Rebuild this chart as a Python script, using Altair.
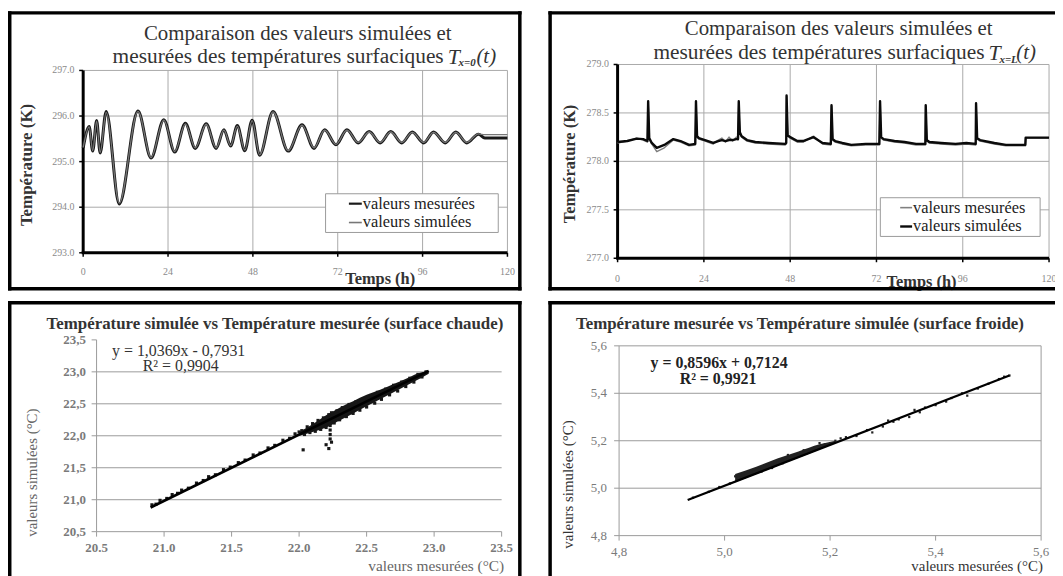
import altair as alt
import pandas as pd

# ---------------- data ----------------
time_ticks = [0, 24, 48, 72, 96, 120]

# top-left : T(x=0) [K]
tl_t = [0.0, 1.7, 2.7, 3.8, 4.8, 6.5, 10.2, 15.5, 19.2, 22.8, 25.9, 28.9, 31.7, 34.8,
        37.6, 39.8, 41.7, 43.6, 45.7, 47.8, 49.9, 53.7, 58.0, 61.9, 65.3, 68.3, 71.5,
        74.6, 77.8, 80.9, 84.0, 87.0, 90.1, 93.1, 96.3, 99.1, 102.4, 105.4, 108.5,
        111.8, 113.6, 120.0]
tl_mes = [295.30, 295.77, 295.23, 295.90, 295.19, 296.10, 294.07, 296.11, 295.08, 295.92,
          295.21, 295.84, 295.29, 295.83, 295.29, 295.70, 295.34, 295.79, 295.24, 295.91,
          295.14, 296.10, 295.23, 295.81, 295.29, 295.70, 295.37, 295.70, 295.41, 295.66,
          295.41, 295.66, 295.41, 295.65, 295.41, 295.65, 295.41, 295.65, 295.41, 295.60,
          295.52, 295.52]
tl_sim = [295.31, 295.76, 295.24, 295.89, 295.20, 296.08, 294.09, 296.10, 295.09, 295.91,
          295.22, 295.83, 295.30, 295.82, 295.30, 295.69, 295.35, 295.78, 295.25, 295.90,
          295.15, 296.09, 295.24, 295.80, 295.30, 295.69, 295.38, 295.69, 295.42, 295.65,
          295.42, 295.65, 295.42, 295.64, 295.42, 295.64, 295.42, 295.64, 295.42, 295.61,
          295.59, 295.59]
tl_yticks = [293.0, 294.0, 295.0, 296.0, 297.0]

# top-right : T(x=L) [K]
tr_t = [0, 2.7, 5.3, 7.1, 8.3, 8.5, 8.8, 9.5, 10.9, 13, 15.5, 17.5, 19.9, 21.6, 21.8, 22.1,
        22.6, 24.3, 26.6, 28, 29, 30, 31, 32, 33, 33.5, 33.7, 34.0, 34.5, 36, 38.3, 42,
        46.6, 46.9, 47.0, 47.3, 48, 50, 51.6, 54.5, 57, 59.3, 59.5, 59.8, 60.5, 62.5, 65,
        69, 72.8, 73.0, 73.3, 74, 77, 79.8, 83, 85.6, 85.7, 86.0, 86.7, 90, 94, 97, 99.6,
        99.7, 100.0, 100.8, 104.8, 108, 111.6, 113.4, 113.5, 120]
tr_sim = [278.20, 278.21, 278.235, 278.23, 278.21, 278.62, 278.24, 278.19, 278.14, 278.17,
          278.23, 278.21, 278.17, 278.18, 278.62, 278.26, 278.24, 278.22, 278.19, 278.21,
          278.22, 278.21, 278.22, 278.22, 278.23, 278.23, 278.62, 278.30, 278.26, 278.22,
          278.20, 278.19, 278.18, 278.19, 278.68, 278.27, 278.25, 278.21, 278.21, 278.25,
          278.19, 278.18, 278.58, 278.23, 278.21, 278.19, 278.17, 278.18, 278.18, 278.62,
          278.25, 278.23, 278.21, 278.20, 278.18, 278.18, 278.58, 278.22, 278.20, 278.19,
          278.18, 278.19, 278.18, 278.60, 278.24, 278.22, 278.19, 278.17, 278.17, 278.17,
          278.245, 278.245]
tr_mes = [278.19, 278.21, 278.24, 278.22, 278.20, 278.61, 278.23, 278.18, 278.10, 278.14,
          278.22, 278.20, 278.16, 278.17, 278.61, 278.25, 278.23, 278.21, 278.18, 278.22,
          278.24, 278.20, 278.25, 278.21, 278.25, 278.22, 278.61, 278.28, 278.25, 278.21,
          278.19, 278.18, 278.17, 278.18, 278.67, 278.26, 278.24, 278.20, 278.20, 278.26,
          278.18, 278.17, 278.57, 278.22, 278.20, 278.18, 278.16, 278.17, 278.17, 278.61,
          278.24, 278.22, 278.20, 278.19, 278.17, 278.17, 278.57, 278.21, 278.19, 278.18,
          278.17, 278.18, 278.17, 278.59, 278.23, 278.21, 278.18, 278.16, 278.16, 278.16,
          278.24, 278.24]
tr_yticks = [277.0, 277.5, 278.0, 278.5, 279.0]

# bottom-left : hot surface scatter (°C)
bl_points = [(20.91, 20.92), (20.94, 20.93), (20.97, 20.99), (21.02, 21.02), (21.06, 21.08),
             (21.10, 21.10), (21.13, 21.15), (21.18, 21.18), (21.24, 21.26), (21.29, 21.30),
             (21.33, 21.36), (21.38, 21.39), (21.44, 21.47), (21.49, 21.51), (21.55, 21.58),
             (21.60, 21.62), (21.66, 21.70), (21.71, 21.73), (21.77, 21.81), (21.82, 21.85),
             (21.88, 21.93), (21.93, 21.96), (21.97, 22.03), (22.00, 22.06), (22.02, 22.08),
             (22.04, 22.02), (22.06, 22.14), (22.08, 22.05), (22.10, 22.19), (22.12, 22.07),
             (22.14, 22.24), (22.16, 22.10), (22.18, 22.28), (22.20, 22.13), (22.22, 22.33),
             (22.23, 22.16), (22.24, 22.36), (22.26, 22.20), (22.28, 22.39), (22.30, 22.25),
             (22.32, 22.44), (22.35, 22.30), (22.37, 22.49), (22.40, 22.35), (22.42, 22.53),
             (22.45, 22.40), (22.48, 22.58), (22.50, 22.45), (22.53, 22.63), (22.56, 22.51),
             (22.58, 22.68), (22.61, 22.57), (22.64, 22.73), (22.67, 22.64), (22.70, 22.79),
             (22.73, 22.70), (22.76, 22.84), (22.79, 22.77), (22.82, 22.90), (22.85, 22.84),
             (22.88, 22.96), (22.91, 22.92), (22.94, 23.00),
             (22.03, 21.78), (22.20, 21.86), (22.22, 21.80), (22.23, 21.95), (22.23, 22.02),
             (22.23, 22.09), (22.24, 21.90)]
bl_band_x = [22.0, 22.1, 22.2, 22.3, 22.4, 22.5, 22.6, 22.7, 22.8, 22.9, 22.96]
bl_band_lo = [22.00, 22.06, 22.13, 22.24, 22.35, 22.46, 22.57, 22.68, 22.79, 22.90, 22.97]
bl_band_hi = [22.06, 22.18, 22.32, 22.44, 22.54, 22.64, 22.72, 22.81, 22.90, 22.99, 23.01]
bl_ticks = [20.5, 21.0, 21.5, 22.0, 22.5, 23.0, 23.5]
bl_grid = [21.0, 21.5, 22.0, 22.5, 23.0]
bl_fit = (1.0369, -0.7931)
bl_fit_x = [20.90, 22.96]

# bottom-right : cold surface scatter (°C)
br_points = [(4.94, 4.96), (4.97, 4.985), (4.99, 5.005), (5.01, 5.02), (5.02, 5.05), (5.03, 5.04),
             (5.03, 5.055), (5.04, 5.05), (5.05, 5.06), (5.05, 5.07), (5.06, 5.065), (5.07, 5.08),
             (5.07, 5.07), (5.08, 5.09), (5.09, 5.085), (5.09, 5.10), (5.10, 5.11), (5.11, 5.105),
             (5.11, 5.12), (5.12, 5.13), (5.12, 5.14), (5.13, 5.125), (5.14, 5.145), (5.15, 5.15),
             (5.15, 5.16), (5.16, 5.155), (5.17, 5.17), (5.18, 5.175), (5.18, 5.19), (5.19, 5.185),
             (5.20, 5.19), (5.21, 5.20), (5.22, 5.21), (5.23, 5.215), (5.25, 5.22), (5.27, 5.245),
             (5.28, 5.235), (5.30, 5.26), (5.31, 5.285), (5.32, 5.28), (5.33, 5.29), (5.35, 5.30),
             (5.36, 5.33), (5.37, 5.32), (5.38, 5.34), (5.40, 5.35), (5.42, 5.365), (5.43, 5.38),
             (5.45, 5.40), (5.46, 5.39), (5.48, 5.42), (5.50, 5.44), (5.52, 5.46), (5.53, 5.47),
             (5.54, 5.475)]
br_band_x = [5.02, 5.06, 5.10, 5.14, 5.18, 5.21]
br_band_lo = [5.025, 5.060, 5.094, 5.128, 5.163, 5.189]
br_band_hi = [5.060, 5.090, 5.125, 5.155, 5.185, 5.200]
br_ticks = [4.8, 5.0, 5.2, 5.4, 5.6]
br_grid = [5.0, 5.2, 5.4]
br_fit = (0.8596, 0.7124)
br_fit_x = [4.93, 5.54]

# ---------------- helpers ----------------
FONT = "Liberation Serif"
one = pd.DataFrame({"k": [0]})
W, H = 1055, 568          # whole drawing (page minus 8px margin)


def label(text, x, y, size, color="#333333", weight="normal", style="normal",
          align="center", angle=0):
    return alt.Chart(one).mark_text(
        text=text, font=FONT, fontSize=size, color=color, fontWeight=weight,
        fontStyle=style, align=align, baseline="middle", angle=angle
    ).encode(x=alt.value(x), y=alt.value(y))


def rule(x1, y1, x2, y2, color="black", width=3.5, cap="square"):
    return alt.Chart(one).mark_rule(color=color, strokeWidth=width, strokeCap=cap).encode(
        x=alt.value(x1), y=alt.value(y1), x2=alt.value(x2), y2=alt.value(y2))


def vgrid(vals, xs, y1, y2, color, width=1):
    return alt.Chart(pd.DataFrame({"v": vals})).mark_rule(color=color, strokeWidth=width).encode(
        x=alt.X("v:Q", scale=xs, axis=None), y=alt.value(y1), y2=alt.value(y2))


def hgrid(vals, ys, x1, x2, color, width=1):
    return alt.Chart(pd.DataFrame({"v": vals})).mark_rule(color=color, strokeWidth=width).encode(
        y=alt.Y("v:Q", scale=ys, axis=None), x=alt.value(x1), x2=alt.value(x2))


def xlabels(vals, xs, y, size, color, weight="normal", expr="format(datum.v, '')"):
    return alt.Chart(pd.DataFrame({"v": vals})).transform_calculate(lab=expr).mark_text(
        font=FONT, fontSize=size, color=color, fontWeight=weight, baseline="middle",
        align="center").encode(x=alt.X("v:Q", scale=xs, axis=None), y=alt.value(y), text="lab:N")


def ylabels(vals, ys, x, size, color, weight="normal", expr="format(datum.v, '.1f')"):
    return alt.Chart(pd.DataFrame({"v": vals})).transform_calculate(lab=expr).mark_text(
        font=FONT, fontSize=size, color=color, fontWeight=weight, baseline="middle",
        align="right").encode(y=alt.Y("v:Q", scale=ys, axis=None), x=alt.value(x), text="lab:N")


def curve(t, v, xs, ys, color, width, interp):
    return alt.Chart(pd.DataFrame({"t": t, "v": v})).mark_line(
        color=color, strokeWidth=width, interpolate=interp, strokeJoin="round").encode(
        x=alt.X("t:Q", scale=xs, axis=None), y=alt.Y("v:Q", scale=ys, axis=None))


def legend_box(x1, y1, x2, y2, entries):
    parts = [alt.Chart(one).mark_rect(fill="white", stroke="#9a9a9a", strokeWidth=1).encode(
        x=alt.value(x1), x2=alt.value(x2), y=alt.value(y1), y2=alt.value(y2))]
    for (lx1, lx2, ly, col, wid, txt) in entries:
        parts.append(rule(lx1, ly, lx2, ly, color=col, width=wid, cap="butt"))
        parts.append(label(txt, lx2 + 1, ly, 16.5, color="#222222", align="left"))
    return parts


comma = "replace(format(datum.v, '.1f'), '.', ',')"
GRID = "#a9a9a9"
TICKLAB = "#8a8a8a"

# ---------------- top-left panel ----------------
tl_xs = alt.Scale(domain=[0, 120], range=[75.75, 503.25], nice=False, zero=False)
tl_ys = alt.Scale(domain=[293, 297], range=[244.5, 60.75], nice=False, zero=False)
tl = alt.layer(
    vgrid(time_ticks[1:], tl_xs, 60.75, 244.5, GRID),
    hgrid(tl_yticks[1:], tl_ys, 75.75, 503.25, GRID),
    vgrid(time_ticks, tl_xs, 244.5, 248.5, "black", 1.5),
    hgrid(tl_yticks, tl_ys, 71.75, 75.75, "black", 1.5),
    rule(75.75, 60.75, 75.75, 244.5, width=3, cap="butt"),
    rule(74.25, 244.5, 503.25, 244.5, width=3, cap="butt"),
    xlabels(time_ticks, tl_xs, 264, 10, TICKLAB),
    ylabels(tl_yticks, tl_ys, 67, 10, TICKLAB),
    curve(tl_t, tl_mes, tl_xs, tl_ys, "#1a1a1a", 3.0, "monotone"),
    curve(tl_t, tl_sim, tl_xs, tl_ys, "#777777", 1.3, "monotone"),
    *legend_box(320, 185, 494, 224, [(343.5, 356.5, 195, "#1a1a1a", 2.2, "valeurs mesurées"),
                                     (343.5, 356.5, 214, "#777777", 1.6, "valeurs simulées")]),
    label("Comparaison des valeurs simulées et", 292, 24, 21),
    label("mesurées des températures surfaciques", 439, 47, 21.5, align="right"),
    label("T", 443, 47, 22, style="italic", align="left"),
    label("x=0", 454, 53, 11, style="italic", weight="bold", align="left"),
    label("(t)", 472, 47, 21, style="italic", align="left"),
    label("Température (K)", 19, 156, 17, weight="bold", angle=270),
    label("Temps (h)", 375, 271, 16.5, weight="bold"),
    rule(1.75, 2.75, 1.75, 280.75), rule(1.75, 2.75, 515.75, 2.75),
    rule(515.75, 2.75, 515.75, 280.75), rule(1.75, 280.75, 515.75, 280.75),
)

# ---------------- top-right panel ----------------
tr_xs = alt.Scale(domain=[0, 120], range=[614.25, 1049], nice=False, zero=False)
tr_ys = alt.Scale(domain=[277, 279], range=[250, 54.75], nice=False, zero=False)
tr = alt.layer(
    vgrid(time_ticks[1:], tr_xs, 54.75, 250, GRID),
    hgrid(tr_yticks[1:], tr_ys, 614.25, 1049, GRID),
    vgrid(time_ticks, tr_xs, 250, 254, "black", 1.5),
    hgrid(tr_yticks, tr_ys, 610.25, 614.25, "black", 1.5),
    rule(614.25, 54.75, 614.25, 250, width=3, cap="butt"),
    rule(612.75, 250, 1049, 250, width=3, cap="butt"),
    xlabels(time_ticks, tr_xs, 270.5, 10, TICKLAB),
    ylabels(tr_yticks, tr_ys, 605.5, 10, TICKLAB),
    curve(tr_t, tr_mes, tr_xs, tr_ys, "#808080", 1.5, "linear"),
    curve(tr_t, tr_sim, tr_xs, tr_ys, "#0a0a0a", 2.4, "linear"),
    *legend_box(879, 189, 1040, 228, [(899, 911, 199, "#808080", 1.6, "valeurs mesurées"),
                                      (899, 911, 218, "#0a0a0a", 2.4, "valeurs simulées")]),
    label("Comparaison des valeurs simulées et", 837, 19.5, 21),
    label("mesurées des températures surfaciques", 984, 43, 21.5, align="right"),
    label("T", 988, 43, 22, style="italic", align="left"),
    label("x=L", 999, 50, 11, style="italic", weight="bold", align="left"),
    label("(t)", 1016, 43, 21, style="italic", align="left"),
    label("Température (K)", 566, 155, 16.5, weight="bold", angle=270),
    label("Temps (h)", 920.5, 274, 16.5, weight="bold"),
    rule(546.25, 2.75, 546.25, 280.75), rule(546.25, 2.75, 1060, 2.75),
    rule(546.25, 280.75, 1060, 280.75),
)

# ---------------- bottom-left panel ----------------
bl_xs = alt.Scale(domain=[20.5, 23.5], range=[89.25, 497.4], nice=False, zero=False)
bl_ys = alt.Scale(domain=[20.5, 23.5], range=[525.5, 332.25], nice=False, zero=False)
bl_band_df = pd.DataFrame({"x": bl_band_x, "lo": bl_band_lo, "hi": bl_band_hi})
bl_pts_df = pd.DataFrame(bl_points, columns=["x", "y"])
bl_fit_df = pd.DataFrame({"x": bl_fit_x, "y": [bl_fit[0] * v + bl_fit[1] for v in bl_fit_x]})
bl = alt.layer(
    hgrid(bl_grid, bl_ys, 89.25, 497.4, "#9a9a9a"),
    vgrid(bl_ticks, bl_xs, 525.5, 530.5, "#9a9a9a"),
    hgrid(bl_ticks, bl_ys, 84.25, 89.25, "#9a9a9a"),
    rule(89.25, 332.25, 89.25, 525.5, color="#9a9a9a", width=1, cap="butt"),
    rule(89.25, 525.5, 497.4, 525.5, color="#9a9a9a", width=1, cap="butt"),
    xlabels(bl_ticks, bl_xs, 542, 13, "#7a7a7a", weight="bold", expr="format(datum.v, '.1f')"),
    ylabels(bl_ticks, bl_ys, 78.5, 13, "#7a7a7a", weight="bold", expr=comma),
    alt.Chart(bl_band_df).mark_area(color="#161616", interpolate="monotone").encode(
        x=alt.X("x:Q", scale=bl_xs, axis=None), y=alt.Y("lo:Q", scale=bl_ys, axis=None), y2="hi:Q"),
    alt.Chart(bl_pts_df).mark_square(size=10, color="#161616", opacity=1).encode(
        x=alt.X("x:Q", scale=bl_xs, axis=None), y=alt.Y("y:Q", scale=bl_ys, axis=None)),
    alt.Chart(bl_fit_df).mark_line(color="black", strokeWidth=2.6).encode(
        x=alt.X("x:Q", scale=bl_xs, axis=None), y=alt.Y("y:Q", scale=bl_ys, axis=None)),
    label("Température simulée vs Température mesurée (surface chaude)", 269, 316, 17,
          weight="bold"),
    label("y = 1,0369x - 0,7931", 172, 343, 16),
    label("R² = 0,9904", 174, 359, 16),
    label("valeurs simulées (°C)", 24, 466, 15, color="#666666", angle=270),
    label("valeurs mesurées (°C)", 431.5, 560.5, 15.5, color="#666666"),
    rule(1.75, 294.75, 1.75, 575), rule(1.75, 294.75, 515.75, 294.75),
    rule(515.75, 294.75, 515.75, 575),
)

# ---------------- bottom-right panel ----------------
br_xs = alt.Scale(domain=[4.8, 5.6], range=[615.75, 1041], nice=False, zero=False)
br_ys = alt.Scale(domain=[4.8, 5.6], range=[529.5, 338.25], nice=False, zero=False)
br_band_df = pd.DataFrame({"x": br_band_x, "lo": br_band_lo, "hi": br_band_hi})
br_pts_df = pd.DataFrame(br_points, columns=["x", "y"])
br_fit_df = pd.DataFrame({"x": br_fit_x, "y": [br_fit[0] * v + br_fit[1] for v in br_fit_x]})
br = alt.layer(
    hgrid(br_grid, br_ys, 615.75, 1041, "#9a9a9a"),
    alt.Chart(one).mark_rect(filled=False, color="#9a9a9a", strokeWidth=1).encode(
        x=alt.value(615.75), x2=alt.value(1041), y=alt.value(338.25), y2=alt.value(529.5)),
    vgrid(br_ticks, br_xs, 529.5, 534.5, "#9a9a9a"),
    hgrid(br_ticks, br_ys, 610.75, 615.75, "#9a9a9a"),
    xlabels(br_ticks, br_xs, 546, 13, "#7a7a7a", expr=comma),
    ylabels(br_ticks, br_ys, 603.5, 13, "#7a7a7a", expr=comma),
    alt.Chart(br_band_df).mark_area(color="#222222", interpolate="monotone").encode(
        x=alt.X("x:Q", scale=br_xs, axis=None), y=alt.Y("lo:Q", scale=br_ys, axis=None), y2="hi:Q"),
    alt.Chart(br_pts_df).mark_square(size=5, color="#222222", opacity=1).encode(
        x=alt.X("x:Q", scale=br_xs, axis=None), y=alt.Y("y:Q", scale=br_ys, axis=None)),
    alt.Chart(br_fit_df).mark_line(color="black", strokeWidth=2.2).encode(
        x=alt.X("x:Q", scale=br_xs, axis=None), y=alt.Y("y:Q", scale=br_ys, axis=None)),
    label("Température mesurée vs Température simulée (surface froide)", 798, 316, 17,
          weight="bold"),
    label("y = 0,8596x + 0,7124", 716.5, 356, 16, color="#222222", weight="bold"),
    label("R² = 0,9921", 715.5, 372, 16, color="#222222", weight="bold"),
    label("valeurs simulées (°C)", 564.5, 478, 15, color="#333333", angle=270),
    label("valeurs mesurées (°C)", 976.5, 560.5, 15, color="#333333"),
    rule(546.25, 294.75, 546.25, 575), rule(546.25, 294.75, 1060, 294.75),
)

chart = alt.layer(tl, tr, bl, br).resolve_scale(
    x="independent", y="independent"
).properties(
    width=W, height=H, padding=0, background="white",
    autosize=alt.AutoSizeParams(type="none"),
).configure_view(strokeWidth=0)

chart.save("out.html", embed_options={"renderer": "svg", "actions": False})
